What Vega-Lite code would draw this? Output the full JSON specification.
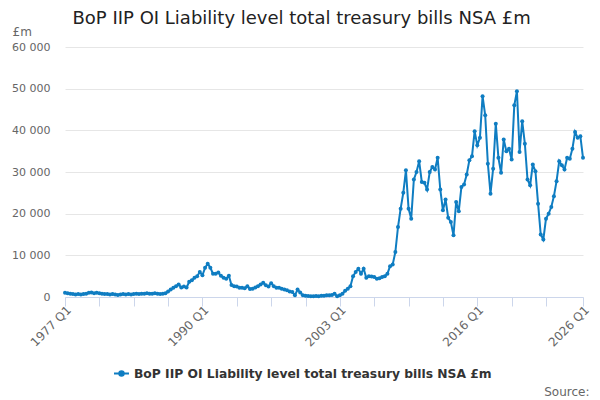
{
  "$schema": "https://vega.github.io/schema/vega-lite/v6.json",
  "width": 518,
  "height": 250,
  "autosize": "none",
  "padding": {"left": 65, "top": 47, "right": 17, "bottom": 103},
  "background": "white",
  "config": {"view": {"stroke": null}, "font": "DejaVu Sans"},
  "title": {"text": "BoP IIP OI Liability level total treasury bills NSA £m", "anchor": "start", "dx": 61, "offset": -3, "fontSize": 18, "font": "DejaVu Sans", "fontWeight": "normal", "color": "#222222"},
  "data": {"values": [
    {"q":"1977 Q1","v":1000},{"q":"1977 Q2","v":900},{"q":"1977 Q3","v":800},{"q":"1977 Q4","v":700},
    {"q":"1978 Q1","v":600},{"q":"1978 Q2","v":700},{"q":"1978 Q3","v":600},{"q":"1978 Q4","v":700},
    {"q":"1979 Q1","v":800},{"q":"1979 Q2","v":1000},{"q":"1979 Q3","v":1100},{"q":"1979 Q4","v":900},
    {"q":"1980 Q1","v":1000},{"q":"1980 Q2","v":900},{"q":"1980 Q3","v":800},{"q":"1980 Q4","v":700},
    {"q":"1981 Q1","v":700},{"q":"1981 Q2","v":600},{"q":"1981 Q3","v":700},{"q":"1981 Q4","v":600},
    {"q":"1982 Q1","v":500},{"q":"1982 Q2","v":600},{"q":"1982 Q3","v":700},{"q":"1982 Q4","v":600},
    {"q":"1983 Q1","v":700},{"q":"1983 Q2","v":600},{"q":"1983 Q3","v":700},{"q":"1983 Q4","v":800},
    {"q":"1984 Q1","v":700},{"q":"1984 Q2","v":800},{"q":"1984 Q3","v":800},{"q":"1984 Q4","v":900},
    {"q":"1985 Q1","v":800},{"q":"1985 Q2","v":800},{"q":"1985 Q3","v":900},{"q":"1985 Q4","v":800},
    {"q":"1986 Q1","v":700},{"q":"1986 Q2","v":800},{"q":"1986 Q3","v":900},{"q":"1986 Q4","v":1300},
    {"q":"1987 Q1","v":1800},{"q":"1987 Q2","v":2200},{"q":"1987 Q3","v":2600},{"q":"1987 Q4","v":3000},
    {"q":"1988 Q1","v":2300},{"q":"1988 Q2","v":2500},{"q":"1988 Q3","v":2300},{"q":"1988 Q4","v":3650},
    {"q":"1989 Q1","v":4000},{"q":"1989 Q2","v":4600},{"q":"1989 Q3","v":5000},{"q":"1989 Q4","v":6000},
    {"q":"1990 Q1","v":5200},{"q":"1990 Q2","v":7000},{"q":"1990 Q3","v":8000},{"q":"1990 Q4","v":7000},
    {"q":"1991 Q1","v":5600},{"q":"1991 Q2","v":5600},{"q":"1991 Q3","v":5900},{"q":"1991 Q4","v":5100},
    {"q":"1992 Q1","v":4600},{"q":"1992 Q2","v":4400},{"q":"1992 Q3","v":5100},{"q":"1992 Q4","v":2900},
    {"q":"1993 Q1","v":2600},{"q":"1993 Q2","v":2500},{"q":"1993 Q3","v":2200},{"q":"1993 Q4","v":2200},
    {"q":"1994 Q1","v":2100},{"q":"1994 Q2","v":2600},{"q":"1994 Q3","v":1900},{"q":"1994 Q4","v":2000},
    {"q":"1995 Q1","v":2300},{"q":"1995 Q2","v":2600},{"q":"1995 Q3","v":3000},{"q":"1995 Q4","v":3400},
    {"q":"1996 Q1","v":2800},{"q":"1996 Q2","v":2500},{"q":"1996 Q3","v":3300},{"q":"1996 Q4","v":2600},
    {"q":"1997 Q1","v":2200},{"q":"1997 Q2","v":2200},{"q":"1997 Q3","v":2000},{"q":"1997 Q4","v":1800},
    {"q":"1998 Q1","v":1600},{"q":"1998 Q2","v":1300},{"q":"1998 Q3","v":1200},{"q":"1998 Q4","v":400},
    {"q":"1999 Q1","v":1800},{"q":"1999 Q2","v":1100},{"q":"1999 Q3","v":400},{"q":"1999 Q4","v":300},
    {"q":"2000 Q1","v":250},{"q":"2000 Q2","v":200},{"q":"2000 Q3","v":200},{"q":"2000 Q4","v":250},
    {"q":"2001 Q1","v":200},{"q":"2001 Q2","v":300},{"q":"2001 Q3","v":300},{"q":"2001 Q4","v":400},
    {"q":"2002 Q1","v":400},{"q":"2002 Q2","v":500},{"q":"2002 Q3","v":800},{"q":"2002 Q4","v":200},
    {"q":"2003 Q1","v":400},{"q":"2003 Q2","v":800},{"q":"2003 Q3","v":1500},{"q":"2003 Q4","v":2000},
    {"q":"2004 Q1","v":2600},{"q":"2004 Q2","v":5000},{"q":"2004 Q3","v":6000},{"q":"2004 Q4","v":6800},
    {"q":"2005 Q1","v":5600},{"q":"2005 Q2","v":6800},{"q":"2005 Q3","v":4600},{"q":"2005 Q4","v":5000},
    {"q":"2006 Q1","v":4900},{"q":"2006 Q2","v":4800},{"q":"2006 Q3","v":4400},{"q":"2006 Q4","v":4500},
    {"q":"2007 Q1","v":4800},{"q":"2007 Q2","v":5000},{"q":"2007 Q3","v":5600},{"q":"2007 Q4","v":7400},
    {"q":"2008 Q1","v":7800},{"q":"2008 Q2","v":10800},{"q":"2008 Q3","v":16800},{"q":"2008 Q4","v":21200},
    {"q":"2009 Q1","v":25000},{"q":"2009 Q2","v":30400},{"q":"2009 Q3","v":21200},{"q":"2009 Q4","v":18800},
    {"q":"2010 Q1","v":28200},{"q":"2010 Q2","v":30000},{"q":"2010 Q3","v":32600},{"q":"2010 Q4","v":27600},
    {"q":"2011 Q1","v":27400},{"q":"2011 Q2","v":25800},{"q":"2011 Q3","v":30000},{"q":"2011 Q4","v":31200},
    {"q":"2012 Q1","v":30600},{"q":"2012 Q2","v":33400},{"q":"2012 Q3","v":25800},{"q":"2012 Q4","v":20800},
    {"q":"2013 Q1","v":23400},{"q":"2013 Q2","v":19000},{"q":"2013 Q3","v":18000},{"q":"2013 Q4","v":14800},
    {"q":"2014 Q1","v":22800},{"q":"2014 Q2","v":20600},{"q":"2014 Q3","v":26400},{"q":"2014 Q4","v":27000},
    {"q":"2015 Q1","v":29400},{"q":"2015 Q2","v":32800},{"q":"2015 Q3","v":33800},{"q":"2015 Q4","v":39800},
    {"q":"2016 Q1","v":36400},{"q":"2016 Q2","v":38200},{"q":"2016 Q3","v":48200},{"q":"2016 Q4","v":43600},
    {"q":"2017 Q1","v":32000},{"q":"2017 Q2","v":24800},{"q":"2017 Q3","v":30800},{"q":"2017 Q4","v":41600},
    {"q":"2018 Q1","v":33400},{"q":"2018 Q2","v":29800},{"q":"2018 Q3","v":37800},{"q":"2018 Q4","v":35000},
    {"q":"2019 Q1","v":35600},{"q":"2019 Q2","v":33000},{"q":"2019 Q3","v":46000},{"q":"2019 Q4","v":49400},
    {"q":"2020 Q1","v":34800},{"q":"2020 Q2","v":42200},{"q":"2020 Q3","v":36800},{"q":"2020 Q4","v":28200},
    {"q":"2021 Q1","v":26800},{"q":"2021 Q2","v":31800},{"q":"2021 Q3","v":30200},{"q":"2021 Q4","v":22400},
    {"q":"2022 Q1","v":15000},{"q":"2022 Q2","v":13800},{"q":"2022 Q3","v":18800},{"q":"2022 Q4","v":20000},
    {"q":"2023 Q1","v":21600},{"q":"2023 Q2","v":24200},{"q":"2023 Q3","v":27800},{"q":"2023 Q4","v":32600},
    {"q":"2024 Q1","v":31600},{"q":"2024 Q2","v":30600},{"q":"2024 Q3","v":33400},{"q":"2024 Q4","v":33200},
    {"q":"2025 Q1","v":35600},{"q":"2025 Q2","v":39600},{"q":"2025 Q3","v":38200},{"q":"2025 Q4","v":38600},
    {"q":"2026 Q1","v":33400}
  ]},
  "mark": {"type": "line", "strokeWidth": 2, "point": {"filled": true, "size": 16}},
  "encoding": {
    "x": {
      "field": "q", "type": "ordinal", "sort": null,
      "scale": {"type": "point", "padding": 0},
      "axis": {
        "values": ["1977 Q1","1980 Q2","1983 Q3","1986 Q4","1990 Q1","1993 Q2","1996 Q3","1999 Q4","2003 Q1","2006 Q2","2009 Q3","2012 Q4","2016 Q1","2019 Q2","2022 Q3","2026 Q1"],
        "labelExpr": "indexof(['1977 Q1','1990 Q1','2003 Q1','2016 Q1','2026 Q1'], datum.value) >= 0 ? datum.value : ''",
        "labelAngle": -45, "labelFontSize": 12, "labelColor": "#666666", "labelFont": "DejaVu Sans",
        "labelOverlap": false, "labelPadding": -2, "labelDx": -3,
        "tickColor": "#ccd6eb", "domainColor": "#ccd6eb", "tickSize": 9, "grid": false,
        "title": "Source:", "titleX": 524, "titleY": 98, "titleAlign": "right", "titleBaseline": "alphabetic",
        "titleFontWeight": "normal", "titleFontSize": 12, "titleColor": "#666666", "titleFont": "DejaVu Sans"
      }
    },
    "y": {
      "field": "v", "type": "quantitative",
      "scale": {"domain": [0, 60000]},
      "axis": {
        "values": [0, 10000, 20000, 30000, 40000, 50000, 60000],
        "labelExpr": "replace(format(datum.value, ','), ',', ' ')",
        "domain": false, "ticks": false, "gridColor": "#e6e6e6",
        "labelColor": "#666666", "labelFontSize": 11, "labelFont": "DejaVu Sans", "labelPadding": 15,
        "title": "£m", "titleAngle": 0, "titleX": -53, "titleY": -12, "titleAlign": "left", "titleBaseline": "alphabetic",
        "titleFontWeight": "normal", "titleFontSize": 12, "titleColor": "#666666", "titleFont": "DejaVu Sans"
      }
    },
    "color": {
      "datum": "BoP IIP OI Liability level total treasury bills NSA £m",
      "type": "nominal",
      "scale": {"range": ["#0f7dc2"]},
      "legend": {
        "orient": "none", "legendX": 48, "legendY": 318, "title": null,
        "labelFontSize": 12.3, "labelFontWeight": "bold", "labelColor": "#333333", "labelFont": "DejaVu Sans", "labelLimit": 1000,
        "symbolType": "M-1,0H1M-0.3,0A0.3,0.3 0 1 1 0.3,0A0.3,0.3 0 1 1 -0.3,0Z",
        "symbolSize": 225, "symbolStrokeWidth": 2, "symbolFillColor": "#0f7dc2", "symbolStrokeColor": "#0f7dc2"
      }
    }
  }
}
